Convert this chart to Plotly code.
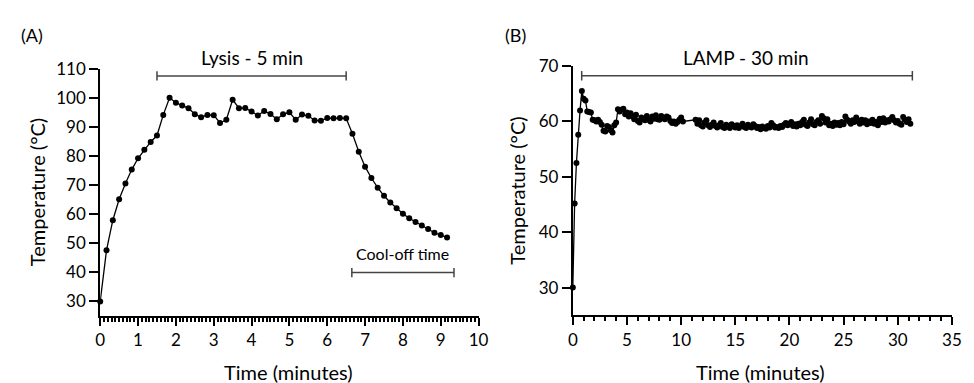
import plotly.graph_objects as go

# ---------------- Data ----------------
# Panel A: lysis heating profile (time in seconds, temperature in °C)
lysis_time_s = [0, 10, 20, 30, 40, 50, 60, 70, 80, 90, 100, 110, 120, 130, 140, 150,
                160, 170, 180, 190, 200, 210, 220, 230, 240, 250, 260, 270, 280, 290,
                300, 310, 320, 330, 340, 350, 360, 370, 380, 390, 400, 410, 420, 430,
                440, 450, 460, 470, 480, 490, 500, 510, 520, 530, 540, 550]
lysis_temp = [30.0, 47.6, 57.9, 65.1, 70.5, 75.3, 79.2, 82.1, 84.8, 87.0, 94.1, 100.0,
              98.3, 97.3, 96.4, 94.3, 93.3, 94.1, 94.0, 91.3, 92.4, 99.3, 96.4, 96.5,
              95.3, 93.9, 95.4, 94.4, 92.6, 94.3, 95.0, 92.4, 94.2, 93.8, 92.2, 92.1,
              93.0, 92.9, 93.0, 92.9, 87.6, 81.4, 76.3, 72.4, 69.1, 66.3, 64.0, 62.0,
              60.1, 58.6, 57.3, 56.1, 54.9, 53.6, 52.8, 52.0]

# Panel B: LAMP incubation profile (time in seconds, temperature in °C)
lamp_time_s = [0, 10, 20, 30, 40, 50, 60, 70, 80, 90, 100, 110, 120, 130, 140, 150,
               160, 170, 180, 190, 200, 210, 220, 230, 240, 250, 260, 270, 280, 290,
               300, 310, 320, 330, 340, 350, 360, 370, 380, 390, 400, 410, 420, 430,
               440, 450, 460, 470, 480, 490, 500, 510, 520, 530, 540, 550, 560, 570,
               580, 590, 600, 610,
               680, 690, 700, 710, 720, 730, 740, 750, 760, 770, 780, 790, 800, 810,
               820, 830, 840, 850, 860, 870, 880, 890, 900, 910, 920, 930, 940, 950,
               960, 970, 980, 990, 1000, 1010, 1020, 1030, 1040, 1050, 1060, 1070,
               1080, 1090, 1100, 1110, 1120, 1130, 1140, 1150, 1160, 1170, 1180, 1190,
               1200, 1210, 1220, 1230, 1240, 1250, 1260, 1270, 1280, 1290, 1300, 1310,
               1320, 1330, 1340, 1350, 1360, 1370, 1380, 1390, 1400, 1410, 1420, 1430,
               1440, 1450, 1460, 1470, 1480, 1490, 1500, 1510, 1520, 1530, 1540, 1550,
               1560, 1570, 1580, 1590, 1600, 1610, 1620, 1630, 1640, 1650, 1660, 1670,
               1680, 1690, 1700, 1710, 1720, 1730, 1740, 1750, 1760, 1770, 1780, 1790,
               1800, 1810, 1820, 1830, 1840, 1850, 1860, 1870]
lamp_temp = [30.0, 45.2, 52.5, 57.6, 62.0, 65.5, 64.1, 63.8, 61.8, 61.7, 61.6, 60.3,
             60.2, 60.0, 60.3, 59.9, 59.4, 58.3, 58.2, 59.2, 59.0, 58.4, 58.0, 59.3,
             59.8, 62.2, 61.8, 62.1, 62.3, 61.3, 61.6, 60.9, 61.5, 61.0, 60.4, 61.2,
             60.1, 59.8, 60.7, 60.4, 60.2, 61.0, 60.3, 60.0, 60.9, 60.5, 61.1, 60.4,
             60.3, 61.0, 60.6, 60.4, 60.9, 60.7, 60.1, 59.7, 60.0, 59.6, 59.9, 60.3,
             60.7, 60.0,
             60.3, 59.6, 60.2, 59.3, 59.1, 59.8, 60.2, 59.3, 59.0, 59.4, 59.8, 59.2,
             58.9, 59.3, 59.7, 59.0, 58.8, 59.4, 59.1, 58.8, 59.5, 59.2, 58.9, 59.3,
             58.8, 59.2, 59.6, 59.0, 58.8, 59.4, 59.1, 58.9, 59.5, 59.2, 58.8, 59.0,
             58.6, 59.1, 58.8, 58.7, 59.2, 58.9, 59.7, 59.3, 58.9, 59.0, 58.8, 59.2,
             59.0, 59.4, 59.7, 59.3, 59.6, 59.9, 59.2, 59.5, 59.1, 59.6, 59.3, 59.9,
             60.3, 59.4, 59.2, 59.8, 60.4, 59.5, 59.3, 59.9, 60.2, 59.6, 61.0, 60.6,
             59.8, 60.4, 59.3, 59.6, 59.2, 59.8, 59.4, 59.7, 59.3, 59.9, 59.5, 60.9,
             60.3, 60.0, 59.6, 60.2, 59.9, 60.7, 60.1, 59.6, 60.3, 59.8, 60.2, 59.5,
             60.0, 59.7, 60.3, 59.6, 59.9, 59.3, 60.5, 59.9, 60.6, 59.8, 60.2, 60.0,
             60.4, 60.8, 60.2, 59.8, 60.1, 59.6, 59.4, 60.8, 60.3, 59.9, 60.4, 59.6]

x_ticks_a = [0, 1, 2, 3, 4, 5, 6, 7, 8, 9, 10]
y_ticks_a = [30, 40, 50, 60, 70, 80, 90, 100, 110]
x_ticks_b = [0, 5, 10, 15, 20, 25, 30, 35]
y_ticks_b = [30, 40, 50, 60, 70]

lysis_bracket = [1.5, 6.5]      # minutes
cooloff_bracket = [6.65, 9.35]  # minutes
lamp_bracket = [0.82, 31.35]    # minutes

# ---------------- Figure ----------------
FONT = "Lato, 'Open Sans', sans-serif"
W, H = 974, 383

lysis_min = [t / 60 for t in lysis_time_s]
lamp_min = [t / 60 for t in lamp_time_s]

fig = go.Figure()
fig.add_trace(go.Scatter(x=lysis_min, y=lysis_temp, mode="lines+markers",
                         line=dict(color="black", width=1.3),
                         marker=dict(color="black", size=6),
                         cliponaxis=False, xaxis="x", yaxis="y", showlegend=False))
fig.add_trace(go.Scatter(x=lamp_min, y=lamp_temp, mode="lines+markers",
                         line=dict(color="black", width=1.3),
                         marker=dict(color="black", size=6),
                         cliponaxis=False, xaxis="x2", yaxis="y2", showlegend=False))

axis_common = dict(showline=True, linecolor="black", linewidth=2, ticks="outside",
                   tickcolor="black", tickwidth=2, showgrid=False, zeroline=False,
                   tickfont=dict(family=FONT, size=17, color="black"))

def px_x(p):
    return p / W

def px_y(p):
    return 1 - p / H

fig.update_layout(
    width=W, height=H, margin=dict(l=0, r=0, t=0, b=0),
    paper_bgcolor="white", plot_bgcolor="white",
    font=dict(family=FONT, color="black"),
    xaxis=dict(domain=[px_x(96.7), px_x(481)], range=[0, 10], tickvals=x_ticks_a,
               ticklen=8, anchor="y",
               minor=dict(dtick=0.1, ticks="outside", ticklen=4, tickwidth=1.5,
                          tickcolor="black", showgrid=False),
               **axis_common),
    yaxis=dict(domain=[px_y(314), px_y(59.3)], range=[25, 110], tickvals=y_ticks_a,
               ticklen=9, anchor="x", **axis_common),
    xaxis2=dict(domain=[px_x(576.7), px_x(961.7)], range=[0, 35], tickvals=x_ticks_b,
                ticklen=8, anchor="y2",
                minor=dict(dtick=1, ticks="outside", ticklen=4, tickwidth=1.5,
                           tickcolor="black", showgrid=False),
                **axis_common),
    yaxis2=dict(domain=[px_y(313.3), px_y(56.7)], range=[25, 70], tickvals=y_ticks_b,
                ticklen=9, anchor="x2", **axis_common),
)

br_color = "#444444"

def bracket(x0, x1, y, cap, xref, yref):
    return [
        dict(type="line", x0=x0, x1=x1, y0=y, y1=y, xref=xref, yref=yref,
             line=dict(color=br_color, width=1.5)),
        dict(type="line", x0=x0, x1=x0, y0=y - cap, y1=y + cap, xref=xref, yref=yref,
             line=dict(color=br_color, width=1.5)),
        dict(type="line", x0=x1, x1=x1, y0=y - cap, y1=y + cap, xref=xref, yref=yref,
             line=dict(color=br_color, width=1.5)),
    ]

shapes = []
shapes += bracket(lysis_bracket[0], lysis_bracket[1], 107.5, 1.6, "x", "y")
shapes += bracket(cooloff_bracket[0], cooloff_bracket[1], 39.9, 1.6, "x", "y")
shapes += bracket(lamp_bracket[0], lamp_bracket[1], 68.25, 0.85, "x2", "y2")
fig.update_layout(shapes=shapes)

C = dict(xanchor="center", yanchor="middle", showarrow=False)
ann = [
    dict(text="Lysis - 5 min", x=sum(lysis_bracket) / 2, y=px_y(47.5), xref="x", yref="paper",
         font=dict(size=19), **C),
    dict(text="Cool-off time", x=sum(cooloff_bracket) / 2, y=46.3, xref="x", yref="y",
         font=dict(size=16), **C),
    dict(text="LAMP - 30 min", x=16.0, y=px_y(47.5), xref="x2", yref="paper",
         font=dict(size=19), **C),
    dict(text="(A)", x=px_x(27), y=px_y(25), xref="paper", yref="paper",
         font=dict(size=18), **C),
    dict(text="(B)", x=px_x(518), y=px_y(25), xref="paper", yref="paper",
         font=dict(size=18), **C),
    dict(text="Time (minutes)", x=px_x(288), y=px_y(372), xref="paper", yref="paper",
         font=dict(size=20), **C),
    dict(text="Time (minutes)", x=px_x(767), y=px_y(372), xref="paper", yref="paper",
         font=dict(size=20), **C),
    dict(text="Temperature (°C)", x=px_x(32), y=px_y(187), xref="paper", yref="paper",
         textangle=-90, font=dict(size=20), **C),
    dict(text="Temperature (°C)", x=px_x(520), y=px_y(185), xref="paper", yref="paper",
         textangle=-90, font=dict(size=20), **C),
]
fig.update_layout(annotations=ann)

fig.write_html("out.html", config={"displayModeBar": False},
               post_script="document.body.style.margin='0';document.body.style.overflow='hidden';")
